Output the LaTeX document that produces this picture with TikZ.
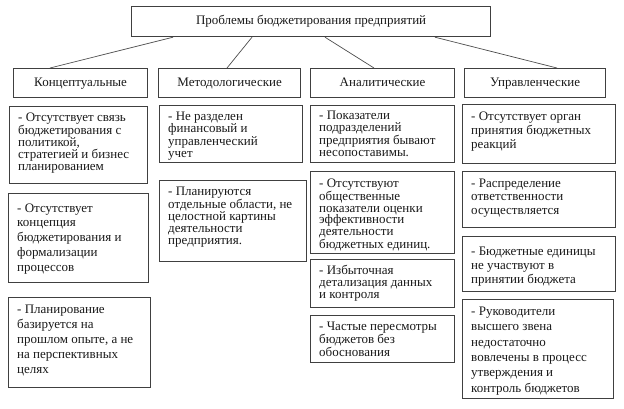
\documentclass[tikz,border=0pt]{standalone}
\usepackage{fontspec}
\setmainfont{Liberation Serif}
\tikzset{
  boxline/.style={draw=black!75, line width=1.2pt},
  titlebox/.style={boxline, anchor=north west, inner sep=0pt, font=\fontsize{13}{15}\selectfont, text=black!90, text height=9pt, text depth=3pt},
  catbox/.style={boxline, anchor=north west, inner sep=0pt, font=\fontsize{13}{15}\selectfont, text=black!90, text height=9pt, text depth=3pt},
  dbox/.style={boxline, anchor=north west, inner sep=0pt},
  dtext/.style={anchor=north west, inner sep=0pt, align=left, text=black!90},
  link/.style={draw=black!70, line width=0.7pt}
}
% #1 name, #2 x1, #3 y1, #4 x2, #5 y2, #6 first-line centre offset, #7 line spacing, #8 text
\newcommand\detbox[8]{%
  \node[dbox, minimum width={#4pt-#2pt}, minimum height={#5pt-#3pt}] (#1) at (#2,#3) {};
  \begin{scope}
    \clip (#1.north west) rectangle (#1.south east);
    \node[dtext, font=\fontsize{13}{#7}\selectfont] (#1t) at ([xshift=9pt, yshift={-(#6pt-7pt)}]#1.north west) {\rule{0pt}{10pt}#8};
  \end{scope}
}
\begin{document}
\begin{tikzpicture}[x=1pt, y=-1pt]
\useasboundingbox (0,0) rectangle (624,408);

\node[titlebox, minimum width=359pt, minimum height=30pt] (top) at (131,6) {Проблемы бюджетирования предприятий};

\node[catbox, minimum width=134pt, minimum height=29pt] (k1) at (13,68) {Концептуальные};
\node[catbox, minimum width=142pt, minimum height=29pt] (k2) at (158,68) {Методологические};
\node[catbox, minimum width=144pt, minimum height=29pt] (k3) at (310,68) {Аналитические};
\node[catbox, minimum width=141pt, minimum height=29pt] (k4) at (464,68) {Управленческие};

\draw[link] ([xshift=42pt]top.south west) -- ([xshift=37pt]k1.north west);
\draw[link] ([xshift=121pt]top.south west) -- ([xshift=69pt]k2.north west);
\draw[link] ([xshift=194pt]top.south west) -- ([xshift=64pt]k3.north west);
\draw[link] ([xshift=304pt]top.south west) -- ([xshift=93pt]k4.north west);

\detbox{a1}{9}{106}{147}{183}{12}{11.6}{- Отсутствует связь\\бюджетирования с\\политикой,\\стратегией и бизнес\\планированием}
\detbox{a2}{8}{193}{148}{282}{16}{14.75}{- Отсутствует\\концепция\\бюджетирования и\\формализации\\процессов}
\detbox{a3}{8}{297}{150}{387}{13}{15}{- Планирование\\базируется на\\прошлом опыте, а не\\на перспективных\\целях}

\detbox{b1}{159}{105}{302}{162}{12}{11.6}{- Не разделен\\финансовый и\\управленческий\\учет}
\detbox{b2}{159}{180}{306}{261}{12}{12}{- Планируются\\отдельные области, не\\целостной картины\\деятельности\\предприятия.}

\detbox{c1}{310}{105}{454}{162}{11}{12.5}{- Показатели\\подразделений\\предприятия бывают\\несопоставимы.}
\detbox{c2}{310}{171}{454}{253}{13}{11.8}{- Отсутствуют\\общественные\\показатели оценки\\эффективности\\деятельности\\бюджетных единиц.}
\detbox{c3}{310}{259}{454}{307}{12}{12}{- Избыточная\\детализация данных\\и контроля}
\detbox{c4}{310}{315}{454}{362}{12}{11.7}{- Частые пересмотры\\бюджетов без\\обоснования}

\detbox{d1}{462}{104}{615}{163}{13}{14}{- Отсутствует орган\\принятия бюджетных\\реакций}
\detbox{d2}{462}{171}{615}{227}{13}{13.5}{- Распределение\\ответственности\\осуществляется}
\detbox{d3}{462}{236}{615}{291}{16}{14}{- Бюджетные единицы\\не участвуют в\\принятии бюджета}
\detbox{d4}{462}{299}{613}{398}{13}{15.4}{- Руководители\\высшего звена\\недостаточно\\вовлечены в процесс\\утверждения и\\контроль бюджетов}
\end{tikzpicture}
\end{document}
